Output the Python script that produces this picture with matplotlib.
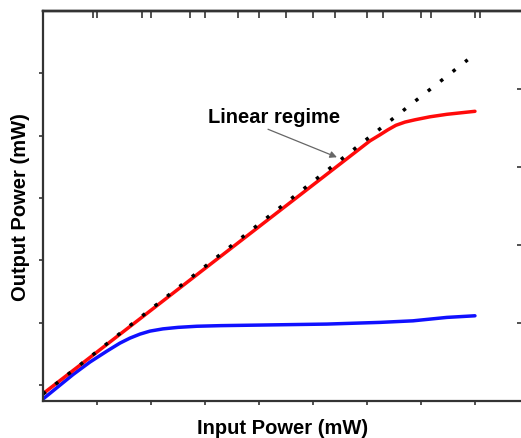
import matplotlib
matplotlib.use("Agg")
import matplotlib.pyplot as plt

plt.rcParams['font.family'] = ['Liberation Sans', 'DejaVu Sans']

# datos
x_rojo = [0, 1.056, 2.907, 4.759, 5.926, 6.056, 6.241, 6.389, 6.537, 6.704, 6.889, 7.167, 7.481, 8.0]
y_rojo = [0.861, 1.567, 2.808, 4.048, 4.830, 4.917, 5.014, 5.095, 5.167, 5.218, 5.255, 5.303, 5.343, 5.391]

x_azul = [0, 0.556, 0.870, 1.185, 1.426, 1.611, 1.796, 1.981, 2.222, 2.5, 2.85, 3.3, 4.019, 5.259,
          6.241, 6.852, 7.481, 8.0]
y_azul = [0.776, 1.168, 1.369, 1.545, 1.673, 1.753, 1.817, 1.865, 1.901, 1.925, 1.943, 1.953, 1.962, 1.978,
          2.005, 2.030, 2.085, 2.111]

x_lineal = [0, 7.865]
y_lineal = [0.856, 6.217]

ticks_x = [1, 2, 3, 4, 5, 6, 7, 8]
ticks_y = [1, 2, 3, 4, 5, 6]
ticks_x_arriba = [1, 2, 3, 4, 5, 6, 7, 8, 9]
ticks_y_der = [1, 2, 3, 4]

color_eje = '#333333'

fig = plt.figure(figsize=(5.21, 4.39), dpi=100)
ax = fig.add_axes([43/521, 37/439, 480/521, 390/439])

ax.plot(x_azul, y_azul, color='#1010ff', lw=2.5, solid_capstyle='round', solid_joinstyle='round')
ax.plot(x_rojo, y_rojo, color='#ff0a0a', lw=2.5, solid_capstyle='round', solid_joinstyle='round')
ax.plot(x_lineal, y_lineal, color='black', lw=2.5, linestyle=(0, (1, 3.55)))

ax.set_xlim(0, 8.89)
ax.set_ylim(0.744, 7.0)
ax.set_xticks(ticks_x)
ax.set_yticks(ticks_y)
ax.set_xticklabels([])
ax.set_yticklabels([])
ax.tick_params(direction='out', length=3, width=1.2, color=color_eje)
ax.spines['right'].set_visible(False)
for lado in ['left', 'bottom', 'top']:
    ax.spines[lado].set_linewidth(1.6)
    ax.spines[lado].set_color(color_eje)

ax.set_xlabel('Input Power (mW)', fontsize=14.5, fontweight='bold', labelpad=6)
ax.set_ylabel('Output Power (mW)', fontsize=14.5, fontweight='bold', labelpad=3)

# texto y flecha
ax.text(4.28, 5.31, 'Linear regime', fontsize=14.5, fontweight='bold',
        ha='center', va='center')
ax.annotate('', xy=(5.444, 4.654), xytext=(4.167, 5.103),
            arrowprops=dict(arrowstyle='-|>', color='#666666', lw=0.9,
                            shrinkA=0, shrinkB=0, mutation_scale=10))

# ticks de arriba (dos escalas)
ax_top = ax.twiny()
ax_top.set_xlim(ax.get_xlim())
ax_top.set_xticks(ticks_x)
ax_top.set_xticklabels([])
ax_top.tick_params(direction='in', length=5, width=1.2, color=color_eje)

ax_top2 = ax.twiny()
ax_top2.set_xlim(-0.04, 9.9)
ax_top2.set_xticks(ticks_x_arriba)
ax_top2.set_xticklabels([])
ax_top2.tick_params(direction='in', length=5, width=1.2, color=color_eje)

# ticks de la derecha
ax_der = ax.twinx()
ax_der.set_ylim(0, 5.0)
ax_der.set_yticks(ticks_y_der)
ax_der.set_yticklabels([])
ax_der.tick_params(direction='in', length=4, width=1.2, color=color_eje)

for a in [ax_top, ax_top2, ax_der]:
    for lado in ['left', 'bottom', 'right']:
        a.spines[lado].set_visible(False)
    a.spines['top'].set_linewidth(1.6)
    a.spines['top'].set_color(color_eje)

plt.savefig('out.png', dpi=100)
